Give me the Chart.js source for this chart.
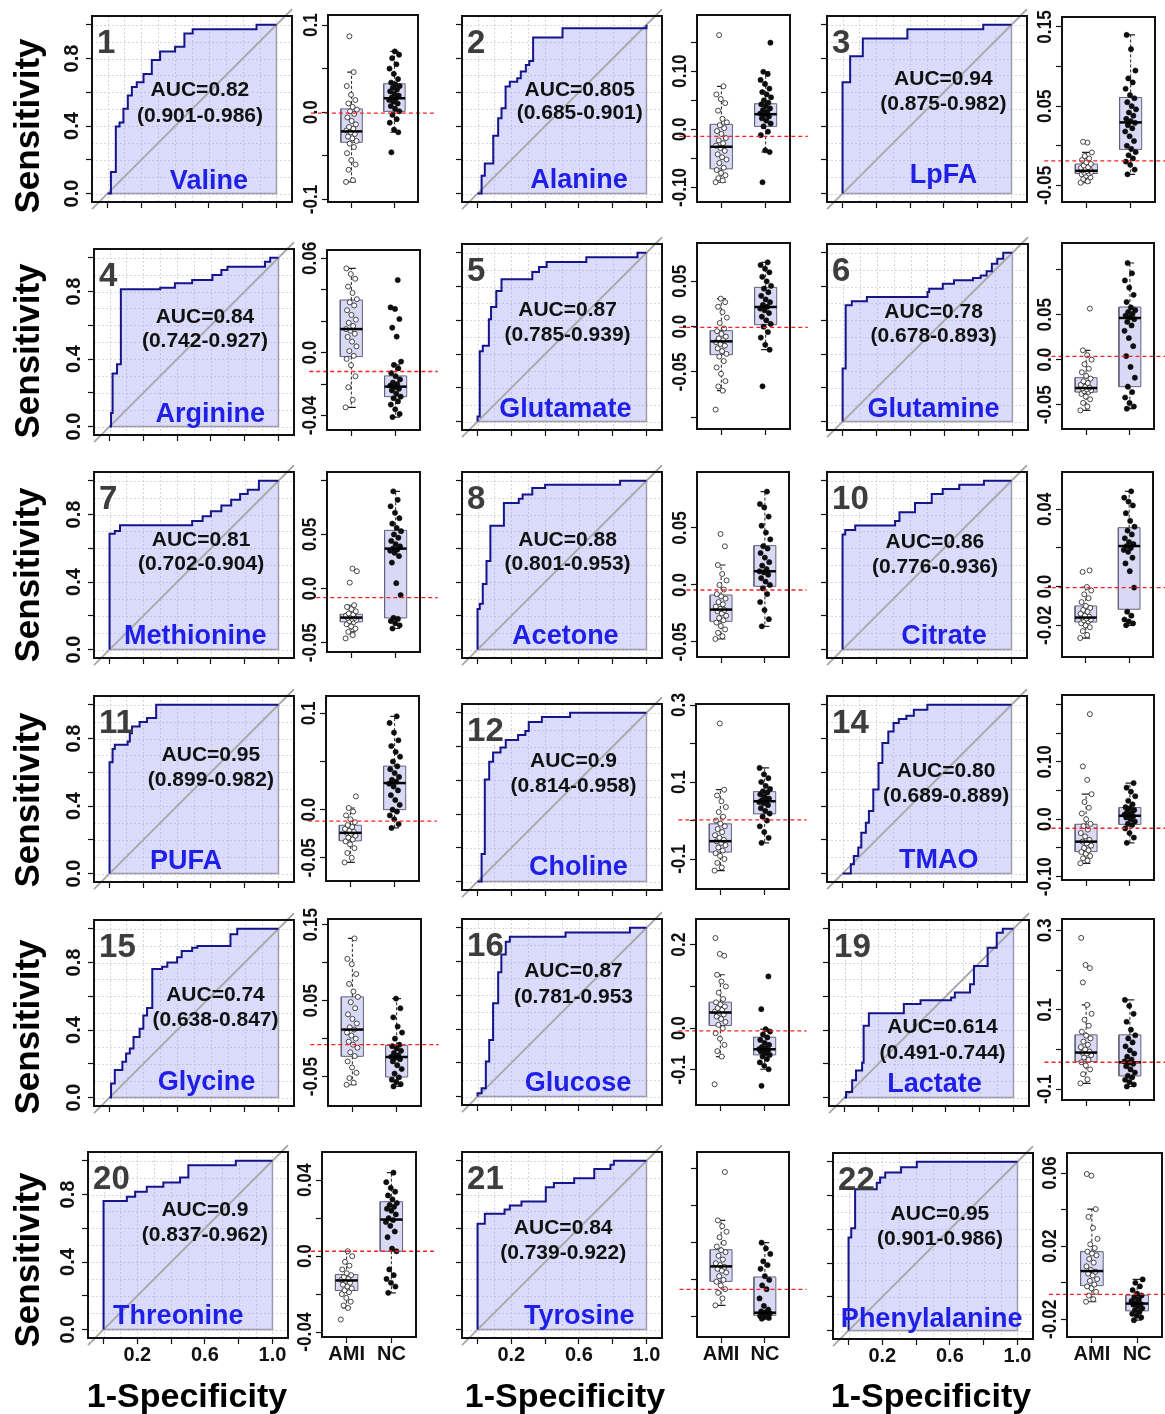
<!DOCTYPE html>
<html lang="en">
<head>
<meta charset="utf-8">
<title>ROC curves and box plots of serum metabolites (AMI vs NC)</title>
<script src="https://cdn.jsdelivr.net/npm/chart.js@4.4.1/dist/chart.umd.min.js"></script>
<style>
  html, body { margin: 0; padding: 0; background: #ffffff; }
  #figure { position: relative; width: 1165px; height: 1414px; overflow: hidden; background: #fff;
            font-family: "Liberation Sans", Arial, sans-serif; }
  #figure canvas { position: absolute; }
  .axis-title { position: absolute; font-weight: bold; color: #000; white-space: nowrap; line-height: 1; }
  .axis-title.y { font-size: 35px; transform: translate(-50%, -50%) rotate(-90deg); }
  .axis-title.x { font-size: 34px; transform: translate(-50%, -50%); }
</style>
</head>
<body>
<div id="figure"></div>
<script>
// ---------------- values ----------------
const panelIds = ['1','2','3','4','5','6','7','8','10','11','12','14','15','16','19','20','21','22'];
const analytes = ['Valine','Alanine','LpFA','Arginine','Glutamate','Glutamine','Methionine','Acetone','Citrate',
                  'PUFA','Choline','TMAO','Glycine','Glucose','Lactate','Threonine','Tyrosine','Phenylalanine'];
const aucLabels = ['AUC=0.82','AUC=0.805','AUC=0.94','AUC=0.84','AUC=0.87','AUC=0.78','AUC=0.81','AUC=0.88','AUC=0.86',
                   'AUC=0.95','AUC=0.9','AUC=0.80','AUC=0.74','AUC=0.87','AUC=0.614','AUC=0.9','AUC=0.84','AUC=0.95'];
const ciLabels = ['(0.901-0.986)','(0.685-0.901)','(0.875-0.982)','(0.742-0.927)','(0.785-0.939)','(0.678-0.893)',
                  '(0.702-0.904)','(0.801-0.953)','(0.776-0.936)','(0.899-0.982)','(0.814-0.958)','(0.689-0.889)',
                  '(0.638-0.847)','(0.781-0.953','(0.491-0.744)','(0.837-0.962)','(0.739-0.922)','(0.901-0.986)'];
const groupLabels = ['AMI', 'NC'];

// ROC step vertices (1-specificity, sensitivity)
const rocFPR = [
  [0,0.02,0.049,0.071,0.094,0.12,0.144,0.173,0.213,0.262,0.311,0.4,0.455,0.504,0.882,1],
  [0,0.024,0.043,0.093,0.122,0.142,0.166,0.191,0.235,0.256,0.286,0.306,0.329,0.503,1],
  [0,0,0.045,0.12,0.384,0.833,1],
  [0,0.009,0.018,0.044,0.067,0.3,0.387,0.489,0.609,0.662,0.698,0.92,0.951,1],
  [0,0,0.013,0.031,0.067,0.08,0.111,0.142,0.324,0.364,0.409,0.644,0.947,1],
  [0,0,0.018,0.054,0.143,0.5,0.51,0.59,0.656,0.768,0.813,0.848,0.879,0.911,0.946,1],
  [0,0,0.031,0.062,0.489,0.551,0.6,0.662,0.72,0.773,0.818,0.884,1],
  [0,0,0.013,0.031,0.053,0.076,0.156,0.244,0.267,0.324,0.4,0.844,1],
  [0,0,0.016,0.075,0.311,0.337,0.429,0.528,0.593,0.691,0.837,1],
  [0,0,0.018,0.031,0.107,0.12,0.133,0.178,0.222,0.276,1],
  [0,0.024,0.043,0.069,0.092,0.136,0.167,0.24,0.283,0.303,0.381,0.548,1],
  [0,0.049,0.067,0.093,0.111,0.138,0.156,0.182,0.213,0.236,0.271,0.302,0.333,0.378,0.422,0.502,1],
  [0,0.009,0.031,0.076,0.098,0.12,0.142,0.178,0.2,0.222,0.253,0.311,0.342,0.4,0.427,0.489,0.52,0.716,0.756,1],
  [0,0,0.024,0.049,0.069,0.092,0.122,0.141,0.167,0.191,0.521,0.902,1],
  [0,0.009,0.045,0.068,0.104,0.113,0.144,0.351,0.45,0.631,0.653,0.743,0.766,0.847,0.901,0.937,1],
  [0,0,0.138,0.187,0.256,0.354,0.453,0.502,0.783,1],
  [0,0,0.043,0.16,0.191,0.26,0.404,0.452,0.572,0.691,0.787,0.807,1],
  [0,0,0.016,0.039,0.167,0.187,0.217,0.311,0.404,1]
];
const rocTPR = [
  [0,0.128,0.398,0.421,0.502,0.581,0.632,0.659,0.709,0.791,0.841,0.87,0.949,0.974,1,1],
  [0,0.105,0.178,0.343,0.446,0.505,0.634,0.663,0.683,0.723,0.762,0.786,0.925,0.98,1],
  [0,0.659,0.813,0.919,0.974,1,1],
  [0,0.08,0.314,0.369,0.813,0.823,0.849,0.869,0.898,0.927,0.947,0.976,1,1],
  [0,0.03,0.417,0.449,0.606,0.679,0.774,0.843,0.886,0.915,0.945,0.974,1,1],
  [0,0.315,0.689,0.713,0.738,0.768,0.787,0.817,0.837,0.85,0.866,0.89,0.935,0.965,1,1],
  [0,0.686,0.702,0.737,0.761,0.79,0.82,0.853,0.888,0.922,0.947,1,1],
  [0,0.241,0.271,0.388,0.524,0.734,0.869,0.894,0.918,0.957,0.976,1,1],
  [0,0.682,0.708,0.735,0.761,0.814,0.869,0.922,0.951,0.976,1,1],
  [0,0.659,0.738,0.763,0.783,0.832,0.872,0.898,0.921,1,1],
  [0,0.163,0.604,0.71,0.765,0.794,0.839,0.869,0.892,0.945,0.975,1,1],
  [0,0.055,0.104,0.154,0.242,0.301,0.37,0.498,0.655,0.773,0.841,0.892,0.915,0.935,0.97,1,1],
  [0,0.084,0.163,0.212,0.261,0.29,0.359,0.408,0.486,0.531,0.761,0.775,0.8,0.831,0.869,0.888,0.898,0.967,1,1],
  [0,0.02,0.049,0.207,0.335,0.553,0.736,0.842,0.917,0.947,0.972,1,1],
  [0,0.033,0.102,0.161,0.206,0.426,0.499,0.554,0.577,0.593,0.623,0.672,0.78,0.888,0.976,1,1],
  [0,0.761,0.787,0.816,0.846,0.872,0.901,0.974,1,1],
  [0,0.627,0.686,0.712,0.735,0.759,0.843,0.869,0.896,0.951,0.976,1,1],
  [0,0.551,0.606,0.837,0.876,0.907,0.937,0.967,1,1]
];
const rocTicks = [0, 0.2, 0.4, 0.6, 0.8, 1.0];
const rocYTickLabels = ['0.0', '', '0.4', '', '0.8', ''];
const rocXTickLabels = ['', '0.2', '', '0.6', '', '1.0'];

// individual values per group
const amiValues = [
  [-0.080,-0.078,-0.066,-0.060,-0.055,-0.047,-0.040,-0.036,-0.033,-0.030,-0.028,-0.025,-0.023,-0.021,-0.019,-0.017,-0.014,-0.010,-0.006,-0.002,0.001,0.003,0.006,0.010,0.014,0.020,0.030,0.046,0.087],
  [-0.091,-0.088,-0.084,-0.079,-0.075,-0.070,-0.066,-0.058,-0.052,-0.048,-0.043,-0.037,-0.032,-0.028,-0.024,-0.019,-0.015,-0.008,-0.003,0.002,0.007,0.012,0.018,0.032,0.045,0.052,0.060,0.074,0.162],
  [-0.0467,-0.045,-0.042,-0.040,-0.038,-0.036,-0.035,-0.034,-0.033,-0.032,-0.031,-0.030,-0.029,-0.028,-0.027,-0.025,-0.023,-0.021,-0.018,-0.016,-0.013,-0.0084,0.004,0.005],
  [-0.0348,-0.030,-0.022,-0.015,-0.008,-0.004,-0.002,0.001,0.004,0.007,0.010,0.012,0.014,0.015,0.017,0.019,0.021,0.024,0.027,0.030,0.032,0.034,0.038,0.042,0.047,0.050,0.0536],
  [-0.0915,-0.0706,-0.066,-0.060,-0.052,-0.045,-0.038,-0.033,-0.030,-0.027,-0.024,-0.021,-0.019,-0.017,-0.015,-0.013,-0.011,-0.008,-0.005,-0.002,0.004,0.010,0.016,0.022,0.027,0.0309],
  [-0.0563,-0.052,-0.048,-0.044,-0.041,-0.038,-0.036,-0.035,-0.034,-0.033,-0.032,-0.031,-0.030,-0.028,-0.026,-0.024,-0.021,-0.018,-0.014,-0.010,-0.005,0.000,0.005,0.0104,0.0567],
  [-0.046,-0.043,-0.040,-0.037,-0.035,-0.033,-0.031,-0.030,-0.029,-0.028,-0.027,-0.027,-0.026,-0.025,-0.024,-0.023,-0.021,-0.019,-0.017,-0.0154,0.0055,0.016,0.0185],
  [-0.0474,-0.045,-0.042,-0.039,-0.036,-0.033,-0.031,-0.029,-0.027,-0.025,-0.023,-0.022,-0.021,-0.019,-0.017,-0.015,-0.012,-0.010,-0.008,-0.004,0.000,0.004,0.0096,0.0175,0.0339,0.0447],
  [-0.0266,-0.025,-0.023,-0.021,-0.020,-0.019,-0.018,-0.0175,-0.017,-0.0165,-0.016,-0.0155,-0.015,-0.014,-0.013,-0.012,-0.011,-0.010,-0.008,-0.006,-0.004,-0.002,-0.0002,0.0076,0.0084],
  [-0.0548,-0.050,-0.045,-0.040,-0.036,-0.033,-0.031,-0.029,-0.027,-0.025,-0.024,-0.023,-0.022,-0.020,-0.018,-0.016,-0.013,-0.010,-0.006,-0.002,0.0017,0.0138],
  [-0.13,-0.122,-0.110,-0.100,-0.092,-0.085,-0.078,-0.070,-0.064,-0.058,-0.054,-0.050,-0.045,-0.038,-0.030,-0.022,-0.015,-0.008,0.000,0.010,0.022,0.035,0.050,0.065,0.080,0.252],
  [-0.0767,-0.072,-0.068,-0.064,-0.060,-0.057,-0.054,-0.050,-0.046,-0.042,-0.039,-0.036,-0.030,-0.024,-0.018,-0.012,-0.008,0.000,0.010,0.020,0.030,0.0436,0.0686,0.092,0.183],
  [-0.0607,-0.058,-0.052,-0.045,-0.038,-0.030,-0.023,-0.018,-0.012,-0.008,-0.004,0.000,0.004,0.008,0.012,0.015,0.020,0.026,0.032,0.040,0.048,0.055,0.062,0.072,0.085,0.098,0.105,0.1319],
  [-0.1344,-0.068,-0.055,-0.040,-0.025,-0.012,0.000,0.008,0.015,0.022,0.028,0.033,0.037,0.040,0.044,0.048,0.052,0.057,0.062,0.070,0.085,0.100,0.112,0.128,0.1736,0.178,0.216],
  [-0.085,-0.075,-0.062,-0.050,-0.040,-0.032,-0.026,-0.020,-0.014,-0.010,-0.008,-0.005,0.000,0.006,0.012,0.020,0.028,0.035,0.045,0.060,0.075,0.090,0.1126,0.169,0.205,0.213,0.281],
  [-0.0334,-0.0273,-0.026,-0.024,-0.022,-0.020,-0.019,-0.018,-0.017,-0.016,-0.015,-0.014,-0.013,-0.0125,-0.012,-0.011,-0.010,-0.009,-0.007,-0.005,-0.003,0.000,0.0026],
  [0.0063,0.010,0.013,0.015,0.017,0.019,0.020,0.022,0.024,0.025,0.026,0.027,0.028,0.029,0.031,0.033,0.035,0.036,0.038,0.040,0.043,0.046,0.049,0.0521,0.0782],
  [-0.0104,-0.009,-0.007,-0.005,-0.003,-0.002,-0.001,0.001,0.002,0.004,0.005,0.006,0.007,0.009,0.011,0.013,0.015,0.016,0.017,0.019,0.021,0.024,0.030,0.036,0.0403,0.0586,0.0595]
];
const ncValues = [
  [-0.046,-0.023,-0.020,-0.012,-0.008,-0.003,0.001,0.004,0.007,0.010,0.012,0.014,0.016,0.017,0.019,0.021,0.024,0.026,0.028,0.030,0.032,0.034,0.038,0.044,0.050,0.055,0.062,0.066,0.0697],
  [-0.091,-0.039,-0.036,-0.010,-0.004,0.005,0.010,0.015,0.019,0.022,0.025,0.027,0.030,0.033,0.036,0.040,0.043,0.046,0.050,0.055,0.060,0.064,0.070,0.078,0.085,0.095,0.099,0.149],
  [-0.036,-0.030,-0.024,-0.020,-0.016,-0.012,-0.008,-0.004,0.000,0.006,0.012,0.018,0.022,0.026,0.029,0.031,0.034,0.038,0.042,0.046,0.050,0.055,0.060,0.064,0.072,0.080,0.085,0.095,0.122,0.14],
  [-0.041,-0.039,-0.036,-0.033,-0.031,-0.029,-0.028,-0.026,-0.024,-0.023,-0.022,-0.021,-0.020,-0.019,-0.017,-0.015,-0.013,-0.010,-0.0078,-0.0057,0.0102,0.0159,0.0214,0.0278,0.0288,0.0462],
  [-0.0658,-0.0254,-0.020,-0.012,-0.006,0.000,0.003,0.007,0.011,0.015,0.018,0.020,0.022,0.024,0.027,0.030,0.034,0.038,0.042,0.045,0.050,0.055,0.060,0.064,0.068,0.071],
  [-0.0544,-0.052,-0.048,-0.042,-0.036,-0.030,-0.020,-0.008,0.004,0.015,0.024,0.032,0.038,0.042,0.045,0.047,0.049,0.051,0.053,0.055,0.058,0.064,0.072,0.080,0.088,0.096,0.1074],
  [-0.0369,-0.034,-0.032,-0.030,-0.028,-0.027,-0.006,0.005,0.024,0.030,0.033,0.035,0.036,0.037,0.039,0.041,0.044,0.047,0.050,0.053,0.056,0.060,0.065,0.070,0.076,0.082,0.0898],
  [-0.0363,-0.030,-0.022,-0.015,-0.008,-0.003,0.000,0.003,0.006,0.009,0.011,0.012,0.014,0.017,0.020,0.024,0.028,0.032,0.034,0.040,0.046,0.052,0.060,0.068,0.071,0.0819],
  [-0.020,-0.019,-0.018,-0.017,-0.015,-0.013,-0.0005,0.008,0.012,0.015,0.018,0.019,0.020,0.021,0.022,0.023,0.025,0.027,0.029,0.031,0.034,0.038,0.042,0.044,0.046,0.0493],
  [-0.019,-0.015,-0.010,-0.006,-0.002,0.000,0.005,0.010,0.015,0.020,0.024,0.027,0.029,0.031,0.034,0.038,0.042,0.045,0.050,0.055,0.060,0.066,0.072,0.080,0.090,0.0969],
  [-0.058,-0.045,-0.030,-0.015,0.000,0.010,0.018,0.025,0.032,0.040,0.045,0.048,0.050,0.053,0.057,0.062,0.068,0.073,0.076,0.082,0.090,0.100,0.110,0.120,0.1366],
  [-0.041,-0.032,-0.024,-0.016,-0.010,-0.008,-0.004,0.000,0.003,0.005,0.006,0.008,0.010,0.013,0.016,0.019,0.021,0.026,0.032,0.040,0.048,0.055,0.063],
  [-0.0629,-0.060,-0.057,-0.054,-0.051,-0.046,-0.040,-0.035,-0.030,-0.027,-0.025,-0.024,-0.022,-0.019,-0.016,-0.013,-0.010,-0.008,0.000,0.008,0.016,0.028,0.040,0.0527],
  [-0.138,-0.0984,-0.090,-0.082,-0.074,-0.068,-0.064,-0.060,-0.056,-0.053,-0.051,-0.050,-0.048,-0.045,-0.040,-0.035,-0.028,-0.022,-0.015,-0.008,-0.0024,0.0456,0.124],
  [-0.093,-0.088,-0.082,-0.076,-0.070,-0.066,-0.058,-0.050,-0.042,-0.036,-0.033,-0.030,-0.025,-0.018,-0.010,-0.002,0.008,0.018,0.028,0.036,0.050,0.070,0.090,0.110,0.125],
  [-0.0193,-0.016,-0.014,-0.012,-0.010,-0.007,0.0026,0.004,0.010,0.013,0.016,0.018,0.019,0.020,0.022,0.024,0.025,0.026,0.027,0.028,0.030,0.032,0.034,0.036,0.039,0.044],
  [-0.0009,-0.0005,0.000,0.0005,0.001,0.0015,0.002,0.0025,0.003,0.004,0.006,0.010,0.015,0.017,0.020,0.022,0.026,0.028,0.030,0.034,0.037,0.0401],
  [-0.0205,-0.019,-0.018,-0.017,-0.016,-0.015,-0.014,-0.013,-0.012,-0.0115,-0.011,-0.010,-0.009,-0.008,-0.007,-0.006,-0.004,-0.002,0.000,0.0018]
];
// box statistics per group: [lower whisker, Q1, median, Q3, upper whisker]
const amiBox = [
  [-0.080,-0.0345,-0.022,0.0038,0.046],[-0.091,-0.068,-0.030,0.0086,0.074],[-0.0467,-0.035,-0.0316,-0.023,-0.0084],
  [-0.0348,-0.0025,0.015,0.0335,0.0536],[-0.0706,-0.0309,-0.0162,-0.0044,0.0309],[-0.0563,-0.036,-0.0315,-0.020,0.0104],
  [-0.040,-0.0308,-0.0268,-0.0237,-0.0154],[-0.0474,-0.0319,-0.0216,-0.0088,0.0175],[-0.0266,-0.0183,-0.016,-0.010,-0.0002],
  [-0.0548,-0.0324,-0.0241,-0.0162,0.0017],[-0.13,-0.082,-0.0536,-0.0086,0.080],[-0.0767,-0.0564,-0.039,-0.0087,0.0436],
  [-0.0607,-0.0233,0.0119,0.055,0.1319],[-0.068,0.0064,0.0376,0.0624,0.128],[-0.085,-0.0303,-0.0076,0.037,0.1126],
  [-0.0273,-0.0181,-0.0128,-0.0097,0.0026],[0.0063,0.0192,0.0273,0.0363,0.0521],[-0.0104,-0.0016,0.0064,0.017,0.0403]
];
const ncBox = [
  [-0.023,0.001,0.016,0.0326,0.0697],[-0.039,0.005,0.026,0.044,0.099],[-0.036,-0.0046,0.0295,0.061,0.14],
  [-0.041,-0.028,-0.0216,-0.0148,-0.0078],[-0.0254,0.0022,0.0217,0.0434,0.071],[-0.0544,-0.030,0.0463,0.0585,0.1074],
  [-0.0369,-0.0271,0.0369,0.0538,0.0898],[-0.0363,-0.0012,0.012,0.0345,0.0819],[-0.020,-0.0117,0.021,0.0305,0.0493],
  [-0.019,0.0,0.0276,0.0452,0.0969],[-0.058,0.0173,0.050,0.075,0.1366],[-0.041,-0.009,0.006,0.0203,0.063],
  [-0.0629,-0.0505,-0.0242,-0.0088,0.0527],[-0.0984,-0.064,-0.0504,-0.0216,-0.0024],[-0.093,-0.0665,-0.032,0.037,0.125],
  [-0.0193,0.0026,0.0193,0.0287,0.044],[-0.0009,0.0009,0.0023,0.0216,0.0401],[-0.0205,-0.0154,-0.0114,-0.0068,0.0018]
];
// optimal cut-off of each metabolite
const cutoffs = [-0.001,-0.012,-0.019,-0.012,-0.0007,0.0037,-0.0083,-0.0044,-0.0005,-0.012,0.0017,-0.0157,-0.0079,-0.0064,-0.032,0.0026,0.0149,-0.0064];
// box-plot axis ticks and the labels printed at them
const boxTicks = [
  [-0.1,-0.05,0,0.05,0.1],[-0.1,-0.05,0,0.05,0.1,0.15],[-0.05,0,0.05,0.1,0.15],[-0.04,-0.02,0,0.02,0.04,0.06],
  [-0.1,-0.05,0,0.05],[-0.05,0,0.05,0.1],[-0.05,0,0.05,0.1],[-0.05,0,0.05],[-0.02,0,0.02,0.04],
  [-0.05,0,0.05,0.1],[-0.1,0,0.1,0.2,0.3],[-0.1,-0.05,0,0.05,0.1,0.15,0.2],[-0.05,0,0.05,0.1,0.15],
  [-0.1,0,0.1,0.2],[-0.1,0,0.1,0.2,0.3],[-0.04,-0.02,0,0.02,0.04],[0,0.02,0.04,0.06,0.08],[-0.02,0,0.02,0.04,0.06]
];
const boxTickLabels = [
  ['-0.1','','0.0','','0.1'],['-0.10','','0.0','','0.10',''],['-0.05','','0.05','','0.15'],['-0.04','','0.0','','','0.06'],
  ['','-0.05','0.0','0.05'],['-0.05','0.0','0.05',''],['-0.05','0.0','0.05',''],['-0.05','0.0','0.05'],['-0.02','0.0','','0.04'],
  ['-0.05','0.0','','0.1'],['-0.1','','0.1','','0.3'],['-0.10','','0.0','','0.10','',''],['-0.05','','0.05','','0.15'],
  ['-0.1','0.0','','0.2'],['-0.1','','0.1','','0.3'],['-0.04','','0.0','','0.04'],['','','','',''],['-0.02','','0.02','','0.06']
];
const yTitle = 'Sensitivity';
const xTitle = '1-Specificity';

// ---------------- layout (pixels) ----------------
// rx/ry: pixel of ROC origin; box: [left, right, top, bottom] of the box-plot frame; yr: box-plot y range;
// auc: [x, y line 1, y line 2] and lab: [x, y] in ROC data units
const layout = [
  {rx:107.3, ry:194,    box:[327.7,418.3,15,201.7],       yr:[-0.103,0.1115],  auc:[0.547,0.615,0.457], lab:[0.60,0.073]},
  {rx:477.7, ry:193.3,  box:[696.7,790,15,201.7],         yr:[-0.125,0.1966],  auc:[0.605,0.614,0.475], lab:[0.60,0.079]},
  {rx:842.3, ry:193.3,  box:[1061.7,1155,16.7,201.7],     yr:[-0.071,0.1626],  auc:[0.597,0.679,0.531], lab:[0.597,0.108]},
  {rx:109.6, ry:427,    box:[327,420,249.7,429.7],        yr:[-0.0492,0.0653], auc:[0.565,0.646,0.505], lab:[0.596,0.073]},
  {rx:477.7, ry:421.3,  box:[696.7,789.5,243,429],        yr:[-0.1129,0.0923], auc:[0.533,0.659,0.512], lab:[0.52,0.069]},
  {rx:843,   ry:421.3,  box:[1061.7,1154,243,429],        yr:[-0.077,0.1296],  auc:[0.536,0.65,0.508],  lab:[0.536,0.069]},
  {rx:109.6, ry:649.7,  box:[327,420,472,652],            yr:[-0.0586,0.1077], auc:[0.542,0.649,0.506], lab:[0.507,0.075]},
  {rx:477.7, ry:649.7,  box:[696.7,789.3,471.7,656.7],    yr:[-0.0632,0.0991], auc:[0.533,0.649,0.506], lab:[0.52,0.075]},
  {rx:842.3, ry:649.3,  box:[1061.7,1153.3,471.7,656.7],  yr:[-0.0364,0.0593], auc:[0.547,0.637,0.486], lab:[0.6,0.075]},
  {rx:109.6, ry:873.3,  box:[326,419.3,696,881],          yr:[-0.0741,0.118],  auc:[0.6,0.70,0.556],    lab:[0.453,0.073]},
  {rx:477.7, ry:881.7,  box:[696,789,704,889.3],          yr:[-0.1778,0.3026], auc:[0.568,0.716,0.563], lab:[0.597,0.082]},
  {rx:842.2, ry:873.7,  box:[1061.7,1154,695.3,880],      yr:[-0.1058,0.2163], auc:[0.613,0.606,0.459], lab:[0.569,0.075]},
  {rx:109.6, ry:1097.7, box:[328,420.7,919.3,1106],       yr:[-0.0887,0.1575], auc:[0.627,0.608,0.46],  lab:[0.574,0.087]},
  {rx:477.7, ry:1096.7, box:[696,789,919.3,1105],         yr:[-0.184,0.2616],  auc:[0.568,0.74,0.588],  lab:[0.595,0.079]},
  {rx:844.4, ry:1097.3, box:[1061.7,1154,919.3,1100],     yr:[-0.127,0.3286],  auc:[0.58,0.418,0.264],  lab:[0.533,0.08]},
  {rx:103.3, ry:1329.3, box:[321.7,416,1151.7,1336.7],    yr:[-0.0426,0.0549], auc:[0.6,0.708,0.559],   lab:[0.443,0.075]},
  {rx:477.7, ry:1330,   box:[696.7,789.3,1151.7,1336.7],  yr:[-0.0108,0.089],  auc:[0.507,0.598,0.451], lab:[0.602,0.078]},
  {rx:848.3, ry:1331,   box:[1067.3,1161.7,1153.3,1336.7],yr:[-0.0297,0.071],  auc:[0.541,0.691,0.543], lab:[0.492,0.065]}
];
const rowTitleY = [126, 351, 575, 800, 1027, 1260];
const colTitleX = [187, 565, 931];

// ---------------- drawing ----------------
const FONT = '"Liberation Sans", Arial, sans-serif';
const ROC_PX = 169;                 // pixels per ROC unit
const ROC_XR = [-0.092, 1.092];
const ROC_YR = [-0.05, 1.052];
const BOX_XR = [0.45, 2.55];
const BOX_HALF = 0.25, CAP_HALF = 0.1, CUT_XR = [0.05, 2.95];
const ROC_FILL = 'rgba(170,170,245,0.42)';
const BOX_FILL = '#d9d9f6';
const NAVY = '#14148c';
const NAME_BLUE = '#1f1fe8';
const fig = document.getElementById('figure');

function makeCanvas(left, top, w, h) {
  const cv = document.createElement('canvas');
  cv.width = w; cv.height = h;
  cv.style.left = left + 'px'; cv.style.top = top + 'px';
  cv.style.width = w + 'px'; cv.style.height = h + 'px';
  fig.appendChild(cv);
  return cv;
}

function fixedAxis(min, max, tickValues, size, vertical) {
  return {
    type: 'linear', min, max, bounds: 'data',
    ticks: { display: false, autoSkip: false },
    grid: { drawOnChartArea: false, drawTicks: true, tickLength: 6, tickColor: '#111', tickWidth: 1.2, color: 'rgba(0,0,0,0)' },
    border: { display: false },
    afterBuildTicks(s) { s.ticks = tickValues.map(v => ({ value: v })); },
    afterFit(s) {
      if (vertical) s.width = size; else s.height = size;
      s.paddingLeft = 0; s.paddingRight = 0; s.paddingTop = 0; s.paddingBottom = 0;
    }
  };
}

const baseOptions = () => ({
  responsive: false, animation: false, events: [], devicePixelRatio: 1,
  plugins: { legend: { display: false }, tooltip: { enabled: false } },
  elements: { line: { tension: 0 }, point: { radius: 0, hoverRadius: 0 } }
});

// rotated y tick labels; squeeze < 1 narrows the glyph run along the axis
function yTickText(chart, labels, gap, font, squeeze) {
  const s = chart.scales.y, ctx = chart.ctx, a = chart.chartArea;
  ctx.save();
  ctx.font = font; ctx.fillStyle = '#111'; ctx.textAlign = 'center'; ctx.textBaseline = 'alphabetic';
  s.ticks.forEach((t, k) => {
    if (!labels[k]) return;
    ctx.save();
    ctx.translate(a.left - gap, s.getPixelForValue(t.value));
    ctx.rotate(-Math.PI / 2);
    ctx.scale(squeeze, 1);
    ctx.fillText(labels[k], 0, 0);
    ctx.restore();
  });
  ctx.restore();
}
function xTickText(chart, labels, drop, font) {
  const s = chart.scales.x, ctx = chart.ctx, a = chart.chartArea;
  ctx.save();
  ctx.font = font; ctx.fillStyle = '#111'; ctx.textAlign = 'center'; ctx.textBaseline = 'alphabetic';
  s.ticks.forEach((t, k) => { if (labels[k]) ctx.fillText(labels[k], s.getPixelForValue(t.value), a.bottom + drop); });
  ctx.restore();
}
function frame(chart) {
  const ctx = chart.ctx, a = chart.chartArea;
  ctx.save();
  ctx.strokeStyle = '#111'; ctx.lineWidth = 2;
  ctx.strokeRect(a.left, a.top, a.right - a.left, a.bottom - a.top);
  ctx.restore();
}

function rocDecor(i, showY, showX) {
  return {
    id: 'rocDecor',
    beforeDatasetsDraw(chart) {
      const ctx = chart.ctx, a = chart.chartArea, sx = chart.scales.x, sy = chart.scales.y;
      ctx.save();
      ctx.strokeStyle = '#d6d6d6'; ctx.lineWidth = 1; ctx.setLineDash([2, 2]);
      for (let k = 0; k <= 10; k++) {
        const v = k / 10;
        const px = Math.round(sx.getPixelForValue(v)) + 0.5, py = Math.round(sy.getPixelForValue(v)) + 0.5;
        ctx.beginPath(); ctx.moveTo(px, a.top); ctx.lineTo(px, a.bottom); ctx.stroke();
        ctx.beginPath(); ctx.moveTo(a.left, py); ctx.lineTo(a.right, py); ctx.stroke();
      }
      ctx.restore();
    },
    afterDatasetsDraw(chart) {
      const ctx = chart.ctx, sx = chart.scales.x, sy = chart.scales.y, L = layout[i];
      ctx.save();
      ctx.fillStyle = '#3d3d3d'; ctx.font = 'bold 33px ' + FONT; ctx.textAlign = 'left'; ctx.textBaseline = 'alphabetic';
      ctx.fillText(panelIds[i], sx.getPixelForValue(-0.062), sy.getPixelForValue(0.835));
      ctx.fillStyle = '#111'; ctx.font = 'bold 21px ' + FONT; ctx.textAlign = 'center'; ctx.textBaseline = 'middle';
      ctx.fillText(aucLabels[i], sx.getPixelForValue(L.auc[0]), sy.getPixelForValue(L.auc[1]));
      ctx.fillText(ciLabels[i], sx.getPixelForValue(L.auc[0]), sy.getPixelForValue(L.auc[2]));
      ctx.fillStyle = NAME_BLUE; ctx.font = 'bold 27px ' + FONT;
      ctx.fillText(analytes[i], sx.getPixelForValue(L.lab[0]), sy.getPixelForValue(L.lab[1]));
      ctx.restore();
    },
    afterDraw(chart) {
      frame(chart);
      if (showY) yTickText(chart, rocYTickLabels, 14, 'bold 20px ' + FONT, 1);
      if (showX) xTickText(chart, rocXTickLabels, 23, 'bold 20px ' + FONT);
    }
  };
}

function drawRoc(i) {
  const L = layout[i], col = i % 3, row = Math.floor(i / 3);
  const left = Math.round(L.rx + ROC_XR[0] * ROC_PX), right = Math.round(L.rx + ROC_XR[1] * ROC_PX);
  const top = Math.round(L.ry - ROC_YR[1] * ROC_PX), bottom = Math.round(L.ry - ROC_YR[0] * ROC_PX);
  const P = { l: 52, t: 14, r: 14, b: 42 };
  const cv = makeCanvas(left - P.l, top - P.t, right - left + P.l + P.r, bottom - top + P.t + P.b);
  const curve = rocFPR[i].map((x, k) => ({ x, y: rocTPR[i][k] }));
  const last = curve.length - 1;
  const opts = baseOptions();
  opts.layout = { padding: { left: 0, top: P.t, right: P.r, bottom: 0 } };
  opts.scales = {
    x: fixedAxis(ROC_XR[0], ROC_XR[1], rocTicks, P.b, false),
    y: fixedAxis(ROC_YR[0], ROC_YR[1], rocTicks, P.l, true)
  };
  new Chart(cv, {
    type: 'line',
    data: { datasets: [
      { data: curve, stepped: 'before', fill: 'origin', backgroundColor: ROC_FILL, borderWidth: 0, pointRadius: 0, order: 4 },
      { data: [{ x: curve[0].x, y: 0 }, { x: curve[last].x, y: 0 }, { x: curve[last].x, y: curve[last].y }],
        borderColor: '#9c9cab', borderWidth: 1.5, pointRadius: 0, fill: false, order: 3 },
      { data: [{ x: ROC_XR[0], y: ROC_XR[0] }, { x: ROC_XR[1], y: ROC_XR[1] }],
        borderColor: '#aaaaaa', borderWidth: 2, pointRadius: 0, fill: false, clip: false, order: 2 },
      { data: curve, stepped: 'before', fill: false, borderColor: NAVY, borderWidth: 2, pointRadius: 0, order: 1 }
    ] },
    options: opts,
    plugins: [rocDecor(i, col === 0, row === 5)]
  });
}

function jitter(k, phase) { return ((((k + phase) * 0.6180339887) % 1) - 0.5) * 0.26; }

function boxParts(c, st) {
  const [lo, q1, med, q3, hi] = st;
  return [
    { data: [{ x: c - BOX_HALF, y: q1 }, { x: c + BOX_HALF, y: q1 }, { x: c + BOX_HALF, y: q3 }, { x: c - BOX_HALF, y: q3 }, { x: c - BOX_HALF, y: q1 }],
      fill: 'shape', backgroundColor: BOX_FILL, borderColor: '#62627a', borderWidth: 1, pointRadius: 0, order: 7 },
    { data: [{ x: c, y: q3 }, { x: c, y: hi }, { x: c, y: null }, { x: c, y: q1 }, { x: c, y: lo }],
      borderColor: '#222', borderWidth: 1, borderDash: [3, 2], pointRadius: 0, fill: false, spanGaps: false, order: 6 },
    { data: [{ x: c - CAP_HALF, y: hi }, { x: c + CAP_HALF, y: hi }, { x: c, y: null }, { x: c - CAP_HALF, y: lo }, { x: c + CAP_HALF, y: lo }],
      borderColor: '#222', borderWidth: 1.2, pointRadius: 0, fill: false, spanGaps: false, order: 6 },
    { data: [{ x: c - BOX_HALF, y: med }, { x: c + BOX_HALF, y: med }],
      borderColor: '#000', borderWidth: 2.5, pointRadius: 0, fill: false, order: 2 }
  ];
}

function drawBox(i) {
  const L = layout[i], row = Math.floor(i / 3);
  const left = Math.round(L.box[0]), right = Math.round(L.box[1]);
  const top = Math.round(L.box[2]), bottom = Math.round(L.box[3]);
  const P = { l: 50, t: 20, r: 24, b: 42 };
  const cv = makeCanvas(left - P.l, top - P.t, right - left + P.l + P.r, bottom - top + P.t + P.b);
  const opts = baseOptions();
  opts.layout = { padding: { left: 0, top: P.t, right: P.r, bottom: 0 } };
  opts.scales = {
    x: fixedAxis(BOX_XR[0], BOX_XR[1], [1, 2], P.b, false),
    y: fixedAxis(L.yr[0], L.yr[1], boxTicks[i], P.l, true)
  };
  const datasets = [
    ...boxParts(1, amiBox[i]),
    ...boxParts(2, ncBox[i]),
    { data: amiValues[i].map((v, k) => ({ x: 1 + jitter(k, 0), y: v })), showLine: false,
      pointRadius: 2.5, pointBackgroundColor: '#ffffff', pointBorderColor: '#1a1a1a', pointBorderWidth: 0.8, order: 5 },
    { data: ncValues[i].map((v, k) => ({ x: 2 + jitter(k, 0.37), y: v })), showLine: false,
      pointRadius: 2.6, pointBackgroundColor: '#0d0d0d', pointBorderColor: '#0d0d0d', pointBorderWidth: 0.6, order: 4 },
    { data: [{ x: CUT_XR[0], y: cutoffs[i] }, { x: CUT_XR[1], y: cutoffs[i] }],
      borderColor: '#ff1f1f', borderWidth: 1.3, borderDash: [4, 3], pointRadius: 0, fill: false, clip: false, order: 1 }
  ];
  new Chart(cv, {
    type: 'line',
    data: { datasets },
    options: opts,
    plugins: [{
      id: 'boxDecor',
      afterDraw(chart) {
        frame(chart);
        yTickText(chart, boxTickLabels[i], 11, 'bold 20px ' + FONT, 0.86);
        if (row === 5) xTickText(chart, groupLabels, 23, 'bold 20px ' + FONT);
      }
    }]
  });
}

panelIds.forEach((id, i) => { drawRoc(i); drawBox(i); });

rowTitleY.forEach(y => {
  const d = document.createElement('div');
  d.className = 'axis-title y'; d.textContent = yTitle;
  d.style.left = '26px'; d.style.top = y + 'px';
  fig.appendChild(d);
});
colTitleX.forEach(x => {
  const d = document.createElement('div');
  d.className = 'axis-title x'; d.textContent = xTitle;
  d.style.left = x + 'px'; d.style.top = '1395px';
  fig.appendChild(d);
});
</script>
</body>
</html>
